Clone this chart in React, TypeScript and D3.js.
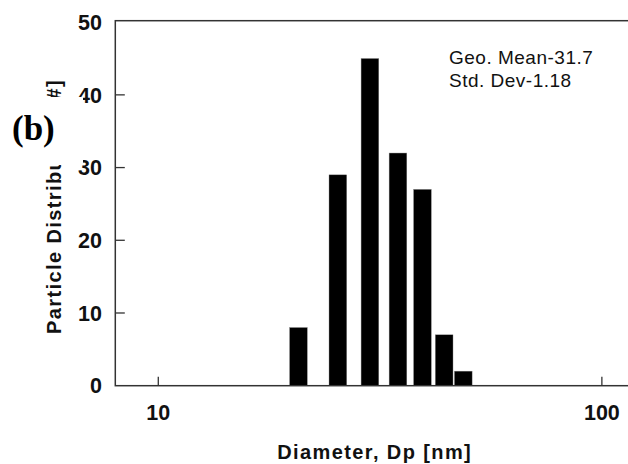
import React from "react";
import * as d3 from "d3";

// Particle size histogram: diameter bins (nm) and counts
const diameters = [20.7, 25.4, 30.0, 34.7, 39.4, 44.1, 48.7];
const counts = [8, 29, 45, 32, 27, 7, 2];
const yTicks = [0, 10, 20, 30, 40, 50];
const xTicks = [10, 100];
const statLines = ["Geo. Mean-31.7", "Std. Dev-1.18"];

const W = 628;
const H = 464;
const plot = { left: 115.3, top: 20.7, bottom: 385.7, right: 637 };
const barWidth = 17.7;
const sans = "Liberation Sans, Arial, Helvetica, sans-serif";
const axisColor = "#333";

export default function App() {
  const x = d3.scaleLog().domain([8, 120]).range([plot.left, plot.right]);
  const y = d3.scaleLinear().domain([0, 50.2]).range([plot.bottom, plot.top]);

  return (
    <svg
      width={W}
      height={H}
      viewBox={`0 0 ${W} ${H}`}
      style={{ position: "absolute", left: 0, top: 0, background: "#fff" }}
    >
      <rect x={0} y={0} width={W} height={H} fill="#fff" />

      {/* bars */}
      {diameters.map((d, i) => (
        <rect
          key={d}
          x={x(d) - barWidth / 2}
          y={y(counts[i])}
          width={barWidth}
          height={y(0) - y(counts[i])}
          fill="#000"
          stroke="#888"
          strokeWidth={0.4}
        />
      ))}

      {/* frame */}
      <rect
        x={plot.left}
        y={plot.top}
        width={plot.right - plot.left}
        height={plot.bottom - plot.top}
        fill="none"
        stroke={axisColor}
        strokeWidth={1.5}
      />

      {/* y ticks */}
      {yTicks.map((t) => (
        <g key={t}>
          {t > 0 && t < 50 && (
            <line
              x1={plot.left}
              x2={plot.left + 9.5}
              y1={y(t)}
              y2={y(t)}
              stroke={axisColor}
              strokeWidth={1.3}
            />
          )}
          <text
            x={102}
            y={y(t)}
            dy="0.36em"
            textAnchor="end"
            fontFamily={sans}
            fontWeight="bold"
            fontSize={21.5}
            fill="#111"
          >
            {t}
          </text>
        </g>
      ))}

      {/* x ticks */}
      {xTicks.map((t) => (
        <g key={t}>
          <line
            x1={x(t)}
            x2={x(t)}
            y1={plot.bottom}
            y2={plot.bottom - 9}
            stroke={axisColor}
            strokeWidth={1.3}
          />
          <text
            x={x(t)}
            y={420}
            textAnchor="middle"
            fontFamily={sans}
            fontWeight="bold"
            fontSize={21.5}
            fill="#111"
          >
            {t}
          </text>
        </g>
      ))}

      {/* axis titles */}
      <text
        x={374.7}
        y={459}
        textAnchor="middle"
        fontFamily={sans}
        fontWeight="bold"
        fontSize={20}
        letterSpacing={1.4}
        fill="#111"
      >
        Diameter, Dp [nm]
      </text>
      <text
        transform="translate(61,206.5) rotate(-90)"
        textAnchor="middle"
        fontFamily={sans}
        fontWeight="bold"
        fontSize={20}
        letterSpacing={1.4}
        fill="#111"
      >
        Particle Distribution [#]
      </text>

      {/* statistics note */}
      {statLines.map((s, i) => (
        <text
          key={s}
          x={449}
          y={63.5 + i * 23}
          fontFamily={sans}
          fontSize={19}
          letterSpacing={0.5}
          fill="#111"
        >
          {s}
        </text>
      ))}

      {/* panel letter on its own white patch */}
      <rect x={0} y={97} width={83} height={68} fill="#fff" />
      <text
        x={12}
        y={140}
        fontFamily="Liberation Serif, Times New Roman, serif"
        fontWeight="bold"
        fontSize={35}
        fill="#000"
      >
        (b)
      </text>
    </svg>
  );
}
